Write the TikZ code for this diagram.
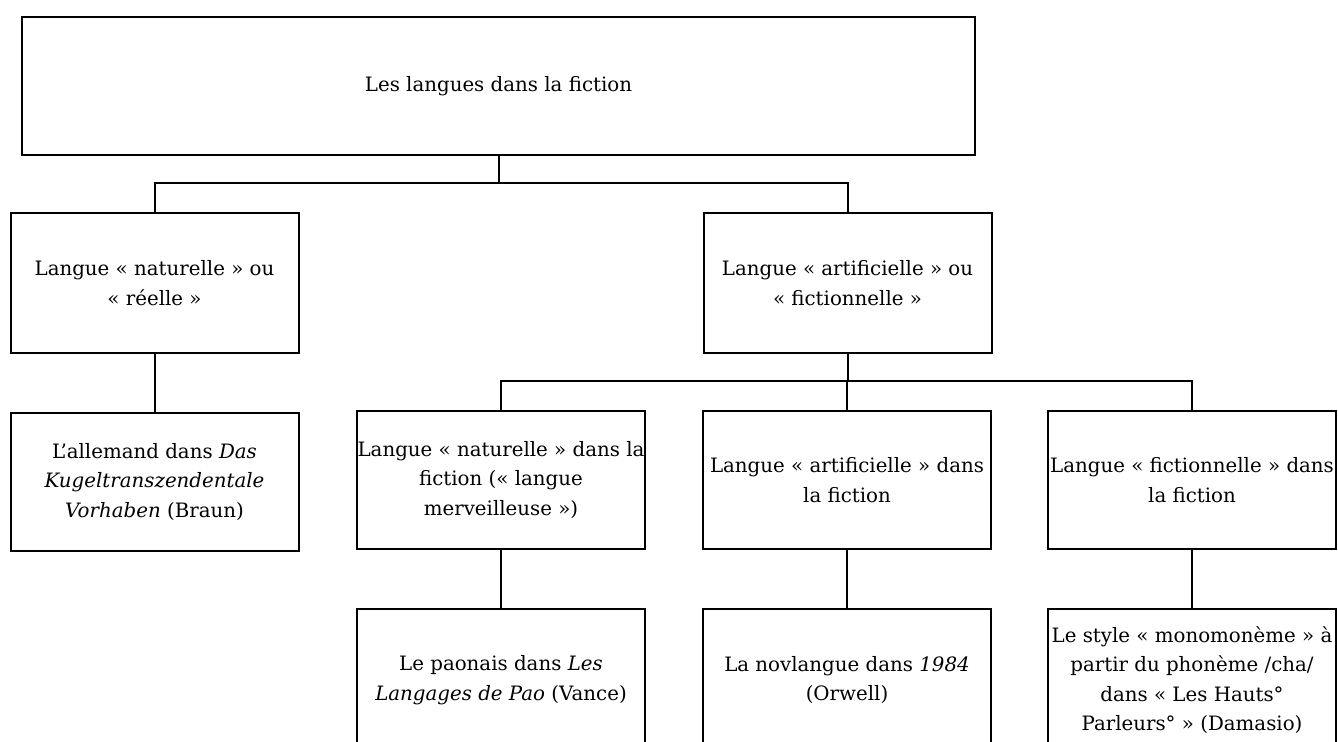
\documentclass[tikz,border=0pt]{standalone}
\usepackage{fontspec}
\setmainfont{DejaVu Serif}
\usetikzlibrary{positioning}

\begin{document}
\begin{tikzpicture}[x=0.5pt, y=-0.5pt, line width=1pt,
    box/.style={draw, fill=white, align=center, inner sep=0.5pt,
      minimum width=144pt, minimum height=69pt,
      font=\fontsize{9.9}{14.75}\selectfont}]
	\useasboundingbox (0,0) rectangle (1338,742);

	% Root
	\node[box, minimum width=476.5pt] (langues) at (498.5,86) {Les langues dans la fiction};

	% Second row
	\node[box, minimum height=70pt] (naturelle) at (154.5,283) {Langue « naturelle » ou\\« réelle »};
	\node[box, minimum height=70pt] (artificielle) at (847.5,283) {Langue « artificielle » ou\\« fictionnelle »};

	% Third row
	\node[box, below=29pt of naturelle] (allemand) {L’allemand dans \textit{Das}\\\textit{Kugeltranszendentale}\\\textit{Vorhaben} (Braun)};
	\node[box] (merveilleuse) at (501,480) {Langue « naturelle » dans la\\fiction (« langue\\merveilleuse »)};
	\node[box] (artfiction) at (847,480) {Langue « artificielle » dans\\la fiction};
	\node[box] (fictfiction) at (1192,480) {Langue « fictionnelle » dans\\la fiction};

	% Bottom row (cut by the page)
	\node[box, minimum height=71pt, below=29pt of merveilleuse] (paonais) {Le paonais dans \textit{Les}\\\textit{Langages de Pao} (Vance)};
	\node[box, minimum height=71pt, below=29pt of artfiction] (novlangue) {La novlangue dans \textit{1984}\\(Orwell)};
	\node[box, minimum height=71pt, below=29pt of fictfiction] (monomoneme) {Le style « monomonème » à\\partir du phonème /cha/\\dans « Les Hauts°\\Parleurs° » (Damasio)};

	% Links
	\coordinate (fork top) at (langues.south |- 0,183);
	\coordinate (fork mid) at (artificielle.south |- 0,381);
	\draw (langues.south) -- (fork top);
	\draw (fork top) -| (naturelle.north);
	\draw (fork top) -| (artificielle.north);
	\draw (artificielle.south) -- (fork mid);
	\draw (fork mid) -| (merveilleuse.north);
	\draw (fork mid) -| (artfiction.north);
	\draw (fork mid) -| (fictfiction.north);
	\draw (naturelle) -- (allemand);
	\draw (merveilleuse) -- (paonais);
	\draw (artfiction) -- (novlangue);
	\draw (fictfiction) -- (monomoneme);
\end{tikzpicture}
\end{document}
